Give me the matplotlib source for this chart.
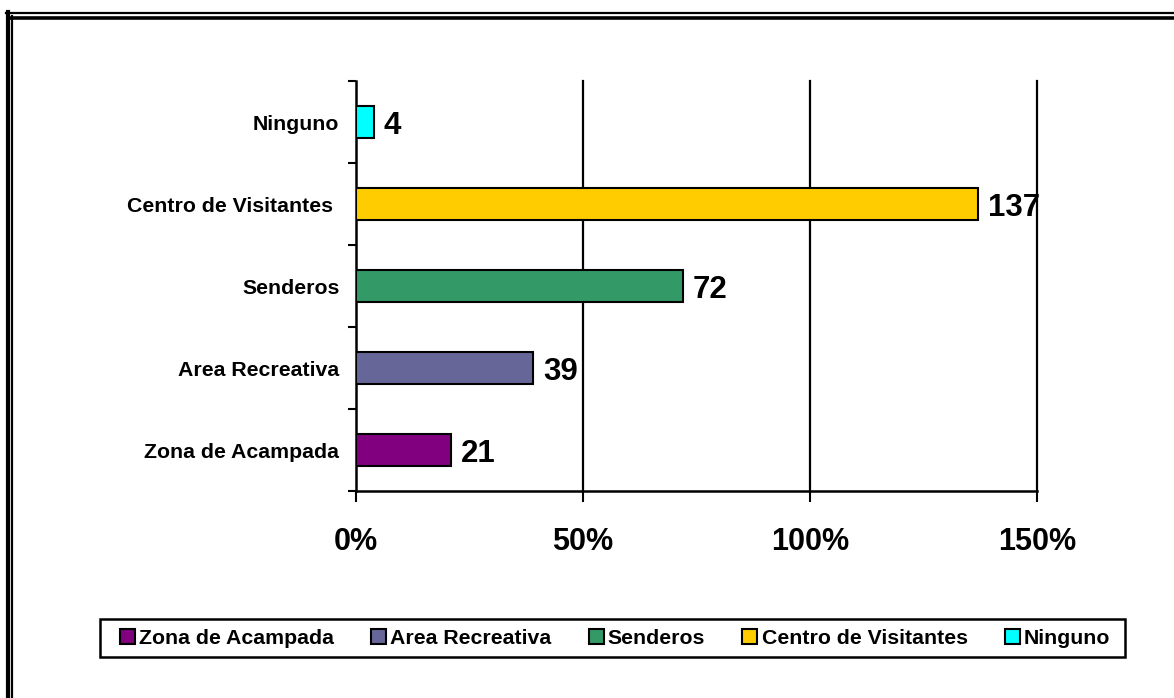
import matplotlib
matplotlib.use("Agg")
import matplotlib.pyplot as plt
from matplotlib.lines import Line2D
from matplotlib.patches import Patch, Rectangle
from matplotlib.ticker import FixedLocator

categories = ["Zona de Acampada", "Area Recreativa", "Senderos", "Centro de Visitantes ", "Ninguno"]
legend_labels = ["Zona de Acampada", "Area Recreativa", "Senderos", "Centro de Visitantes", "Ninguno"]
values = [21, 39, 72, 137, 4]
colors = ["#800080", "#666699", "#339966", "#FFCC00", "#00FFFF"]
xticks = [0, 50, 100, 150]
xtick_labels = ["0%", "50%", "100%", "150%"]

plt.rcParams['font.family'] = ['Liberation Sans', 'DejaVu Sans']
plt.rcParams['font.weight'] = 'bold'

W, H = 1174, 698
fig = plt.figure(figsize=(W / 100, H / 100), dpi=100)
ax = fig.add_axes([356/W, 1-491/H, (1037-356)/W, (491-81)/H])

ypos = list(range(len(categories)))
ax.barh(ypos, values, height=0.4, color=colors, edgecolor="black", linewidth=1.5, zorder=3)

for y, v in zip(ypos, values):
    ax.annotate(str(v), (v, y), xytext=(7, 0), textcoords="offset points",
                ha="left", va="center_baseline", fontsize=22.5, fontweight="bold", zorder=4)

ax.set_xlim(0, 150)
ax.set_ylim(-0.5, len(categories) - 0.5)
ax.set_xticks(xticks)
ax.set_xticklabels(xtick_labels, fontsize=22, fontweight="bold")
ax.set_yticks(ypos)
ax.set_yticklabels(categories, fontsize=15.3, fontweight="bold")
ax.yaxis.set_minor_locator(FixedLocator([i - 0.5 for i in range(len(categories) + 1)]))
ax.tick_params(axis="y", which="major", length=0, pad=12)
ax.tick_params(axis="y", which="minor", length=6, width=1.5, direction="out")
ax.tick_params(axis="x", which="major", length=8, width=1.5, direction="out", pad=18)

for s in ["top", "right"]:
    ax.spines[s].set_visible(False)
for s in ["left", "bottom"]:
    ax.spines[s].set_linewidth(1.8)

for x in xticks[1:]:
    ax.axvline(x, color="black", linewidth=1.6, zorder=1, clip_on=False)

# legend box
fig.add_artist(Rectangle((100/W, 1-657/H), (1125-100)/W, (657-619)/H, transform=fig.transFigure,
                         facecolor="white", edgecolor="black", linewidth=1.8, zorder=1))
handles = [Patch(facecolor=c, edgecolor="black", linewidth=1.5) for c in colors]
leg = fig.legend(handles, legend_labels, loc="center", bbox_to_anchor=(615/W, 1-638/H),
                 ncol=5, frameon=False,
                 prop={"size": 15.3, "weight": "bold"}, handlelength=0.7, handleheight=0.7,
                 handletextpad=0.2, columnspacing=1.75, borderpad=0.0)
leg.set_zorder(2)

# outer double frame
fig.add_artist(Line2D([6/W, 1.0], [1-13/H, 1-13/H], color="black", linewidth=1.6))
fig.add_artist(Line2D([11/W, 1.0], [1-17.5/H, 1-17.5/H], color="black", linewidth=2.6))
fig.add_artist(Line2D([8/W, 8/W], [0, 1-12/H], color="black", linewidth=3.0))
fig.add_artist(Line2D([12/W, 12/W], [0, 1-16/H], color="black", linewidth=1.6))

fig.savefig("out.png", dpi=100)
